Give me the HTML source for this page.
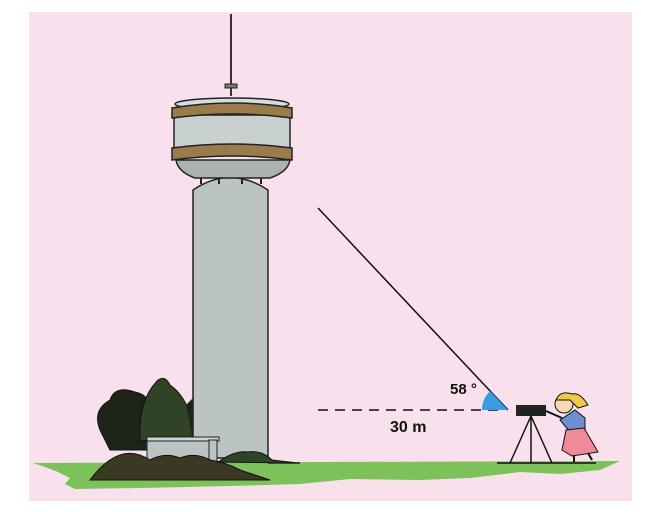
<!DOCTYPE html>
<html><head><meta charset="utf-8"><style>
html,body{margin:0;padding:0;background:#fff;width:658px;height:518px;overflow:hidden}
svg{display:block}
text{font-family:"Liberation Sans",sans-serif;font-weight:bold;fill:#111}
</style></head><body>
<svg width="658" height="518" viewBox="0 0 658 518">
<rect x="29" y="12" width="603" height="489" fill="#f8e1ec"/>
<g>
<path d="M33,463 L620,461 L600,470 L560,474 L520,472 L470,478 L420,480 L350,479 L300,484 L230,486 L140,488 L75,489 L65,484 L70,478 L58,472 L45,467 Z" fill="#7cc15a"/>
</g>
<g>
<line x1="231" y1="14" x2="231" y2="96" stroke="#333" stroke-width="2"/>
<rect x="225" y="84" width="12" height="4" fill="#777" stroke="#222" stroke-width="1"/>
<path d="M193,190 Q230,165 268,190 L268,458 L193,458 Z" fill="#bcc3c3" stroke="#222" stroke-width="1.5"/>
<path d="M176,160 L290,160 Q288,172 270,178 L195,178 Q178,172 176,160 Z" fill="#aab2b2" stroke="#222" stroke-width="1.5"/>
<rect x="174" y="115" width="116" height="38" fill="#c9d0d0" stroke="#222" stroke-width="1.5"/>
<ellipse cx="232" cy="104" rx="57" ry="6" fill="#d7dcdc" stroke="#222" stroke-width="1.5"/>
<path d="M172,108 Q232,98 292,108 L292,118 Q232,110 172,118 Z" fill="#9b7a4c" stroke="#222" stroke-width="1.5"/>
<path d="M172,148 Q232,140 292,148 L292,160 Q232,152 172,160 Z" fill="#9b7a4c" stroke="#222" stroke-width="1.5"/>
<g stroke="#222" stroke-width="2"><line x1="201" y1="178" x2="201" y2="184"/><line x1="219" y1="178" x2="219" y2="184"/><line x1="242" y1="178" x2="242" y2="184"/><line x1="261" y1="178" x2="261" y2="184"/></g>
</g>
<g>
<path d="M100,430 Q92,410 110,400 Q115,385 135,392 Q150,395 150,410 L150,450 L110,450 Z" fill="#1e2418" stroke="#111"/>
<path d="M140,440 Q138,400 158,380 Q165,375 170,385 Q185,395 192,420 L192,445 Z" fill="#2f4427" stroke="#111"/>
<path d="M186,405 L193,398 L193,440 Z" fill="#1e2418"/>
</g>
<g>
<rect x="147" y="440" width="62" height="28" fill="#bcc3c3" stroke="#222"/>
<rect x="147" y="437" width="72" height="4" fill="#cfd5d5" stroke="#222"/>
<rect x="209" y="440" width="8" height="26" fill="#bcc3c3" stroke="#222"/>
</g>
<g>
<path d="M90,480 Q105,460 120,455 Q135,450 150,460 Q165,452 180,458 Q195,452 210,460 Q225,462 240,470 L270,480 Z" fill="#3a3a22" stroke="#111"/>
<path d="M218,462 Q235,450 248,452 Q262,450 272,460 L298,463 Z" fill="#2f4427" stroke="#111"/>
</g>
<line x1="268" y1="463" x2="300" y2="463" stroke="#222" stroke-width="1.5"/>
<g>
<line x1="318" y1="208" x2="508" y2="410" stroke="#111" stroke-width="1.5"/>
<line x1="318" y1="410" x2="505" y2="410" stroke="#111" stroke-width="1.5" stroke-dasharray="10,7"/>
<path d="M508,410 L482,410 A26,26 0 0 1 490.2,391 Z" fill="#3a9be0"/>
</g>
<text x="450" y="394" font-size="15">58 °</text>
<text x="390" y="432" font-size="16">30 m</text>
<g>
<rect x="516" y="405" width="30" height="11" fill="#222"/>
<g stroke="#111" stroke-width="1.5"><line x1="531" y1="416" x2="510" y2="463"/><line x1="531" y1="416" x2="531" y2="463"/><line x1="531" y1="416" x2="552" y2="463"/><line x1="497" y1="463" x2="596" y2="463"/></g>
</g>
<g>
<path d="M560,420 L575,410 L585,418 L585,430 L570,432 Z" fill="#6e8fd0" stroke="#111"/>
<path d="M566,430 L584,428 L598,452 L572,456 L562,450 Z" fill="#ef8b99" stroke="#111"/>
<circle cx="564" cy="404" r="9" fill="#f6d9b8" stroke="#111"/>
<path d="M556,400 Q560,390 572,394 Q580,392 588,405 L578,408 L570,400 Z" fill="#f2c84a" stroke="#111"/>
<line x1="546" y1="411" x2="562" y2="418" stroke="#111" stroke-width="2"/>
<line x1="574" y1="455" x2="574" y2="462" stroke="#111" stroke-width="2"/>
<line x1="588" y1="453" x2="592" y2="460" stroke="#111" stroke-width="2"/>
</g>
</svg>
</body></html>
